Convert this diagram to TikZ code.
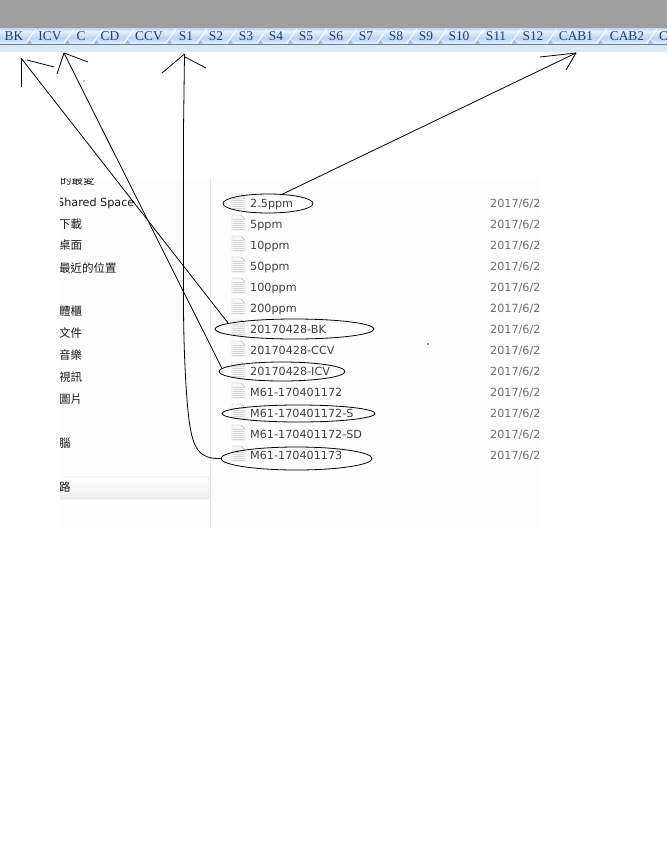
\documentclass[tikz,border=0pt]{standalone}
\usepackage{fontspec}
\setmainfont{Liberation Serif}
\newfontfamily\listfont{DejaVu Sans}
\newfontfamily\cjkfont{Noto Sans CJK TC}
\usetikzlibrary{shapes.geometric}
\definecolor{barGray}{HTML}{9F9F9F}
\definecolor{tabBlue}{HTML}{BCD5F4}
\definecolor{tabPale}{HTML}{E6F0FC}
\definecolor{tabText}{HTML}{1F3F72}
\definecolor{tabRule}{HTML}{6F8296}
\definecolor{tabFoot}{HTML}{A9B6C8}
\definecolor{dateGray}{HTML}{6E6E6E}
\definecolor{sideRule}{HTML}{E2E6EE}
\tikzset{
  tablabel/.style={font=\fontsize{13.4}{13.4}\selectfont,text=tabText,inner sep=0pt},
  filelabel/.style={font=\listfont\fontsize{11.2}{11.2}\selectfont,text=black!75,anchor=west,inner sep=0pt,text height=8.2pt,text depth=0pt},
  datelabel/.style={font=\listfont\fontsize{11.2}{11.2}\selectfont,text=dateGray,anchor=west,inner sep=0pt,text height=8.2pt,text depth=0pt},
  sidelabel/.style={font=\cjkfont\fontsize{11.5}{11.5}\selectfont,text=black!90,anchor=west,inner sep=0pt,text height=9pt,text depth=1pt},
  ring/.style={draw=black,ellipse,line width=.8pt,inner sep=0pt},
  pen/.style={draw=black,line width=.8pt},
}
\begin{document}
\begin{tikzpicture}[x=1pt,y=-1pt]
  \useasboundingbox (0,0) rectangle (667,857);
  \fill[white] (0,0) rectangle (667,857);
  % top of the window
  \fill[barGray] (0,0) rectangle (667,28);
  \shade[top color=tabBlue,bottom color=tabPale] (0,28) rectangle (667,31);
  \shade[top color=tabPale,bottom color=tabBlue] (0,31) rectangle (667,38);
  \shade[top color=tabBlue,bottom color=tabPale] (0,38) rectangle (667,44);
  \fill[tabRule] (0,43.5) rectangle (667,45);
  \fill[tabPale!70!tabBlue] (0,45) rectangle (667,52);
  \foreach \x in {26,64,93,124,166,197,227,257,287,317,347,377,407,437,474,511,547,597,647}{
    \draw[white,line width=.9pt] (\x,43) -- (\x+10,29);
    \fill[tabFoot] (\x+1,43.5) -- (\x+3.5,40) -- (\x+6,43.5) -- cycle;
  }
  \foreach \x/\name in {14/BK,50/ICV,81/C,110/CD,149/CCV,186/S1,216/S2,246/S3,276/S4,306/S5,336/S6,366/S7,396/S8,426/S9,459/S10,496/S11,533/S12,576/CAB1,627/CAB2}
    \node[tablabel] (tab\name) at (\x,36) {\name};
  \node[tablabel,anchor=west] (tabCut) at (659,36) {C};
  % explorer window
  \fill[black!.8] (60,178) rectangle (541,527);
  \draw[sideRule] (210.5,178) -- (210.5,527);
  \begin{scope}
    \clip (60,178) rectangle (541,527);
    \draw[black!18,top color=white,bottom color=black!7,rounded corners=2pt] (50,477) rectangle (209,499);
    \node[sidelabel] (sideFav) at (60,180) {的最愛};
    \node[sidelabel,font=\listfont\fontsize{11.2}{11.2}\selectfont] (sideShare) at (57,202) {Shared Space};
    \node[sidelabel] (sideDown) at (59,224) {下載};
    \node[sidelabel] (sideDesk) at (59,245) {桌面};
    \node[sidelabel] (sideRecent) at (59,268) {最近的位置};
    \node[sidelabel] (sideLib) at (59,311) {體櫃};
    \node[sidelabel] (sideDoc) at (59,333) {文件};
    \node[sidelabel] (sideMusic) at (59,355) {音樂};
    \node[sidelabel] (sideVideo) at (59,377) {視訊};
    \node[sidelabel] (sidePic) at (59,399) {圖片};
    \node[sidelabel] (sidePc) at (59,443) {腦};
    \node[sidelabel] (sideNet) at (59,487) {路};
    % file list
    \foreach \y/\name in {203/2.5ppm,224/5ppm,245/10ppm,266/50ppm,287/100ppm,308/200ppm,329/20170428-BK,350/20170428-CCV,371/20170428-ICV,392/M61-170401172,413/M61-170401172-S,434/M61-170401172-SD,455/M61-170401173}{
      \filldraw[fill=black!3,draw=black!28] (232,\y-9) -- (241,\y-9) -- (245,\y-5) -- (245,\y+6) -- (232,\y+6) -- cycle;
      \foreach \d in {-5,-3,...,5}
        \draw[black!16,line width=.6pt] (233,\y+\d) -- (244,\y+\d);
      \node[filelabel] (file\y) at (250,\y) {\name};
      \node[datelabel] (date\y) at (490,\y) {2017/6/2};
    }
  \end{scope}
  % rings round the files
  \node[ring,minimum width=90pt,minimum height=19pt] (ringPpm) at (268,203.5) {};
  \node[ring,minimum width=159pt,minimum height=20pt] (ringBk) at (294.5,329) {};
  \node[ring,minimum width=126pt,minimum height=19pt] (ringIcv) at (282,371.5) {};
  \node[ring,minimum width=153pt,minimum height=17pt] (ringS) at (298.5,413.5) {};
  \node[ring,minimum width=151pt,minimum height=23pt] (ringOne) at (296.5,458.5) {};
  % arrow tips
  \coordinate (tipBk) at (21,58);
  \coordinate (tipIcv) at (64,53);
  \coordinate (tipSone) at (184.5,54);
  \coordinate (tipCab) at (576,53);
  \draw[pen] (ringBk.175) -- (tipBk);
  \draw[pen] (tipBk) -- ++(0,29);
  \draw[pen] (27,60) -- (54,67);
  \draw[pen] (ringIcv.177) -- (tipIcv);
  \draw[pen] (tipIcv) -- (57,74);
  \draw[pen] (tipIcv) -- (88,62);
  \draw[pen] (ringOne.west) .. controls (200,459) and (193,450) .. (189,420)
     .. controls (186,395) and (183.5,350) .. (183.5,300) -- (183.5,130) -- (tipSone);
  \draw[pen] (tipSone) -- (162,73);
  \draw[pen] (185,57) -- (206,68);
  \draw[pen] (ringPpm.33) -- (tipCab);
  \draw[pen] (tipCab) -- (540,57);
  \draw[pen] (tipCab) -- (566,70);
  % stray dots
  \fill (84,81) circle (.7pt);
  \fill (428,344) circle (.8pt);
\end{tikzpicture}
\end{document}
